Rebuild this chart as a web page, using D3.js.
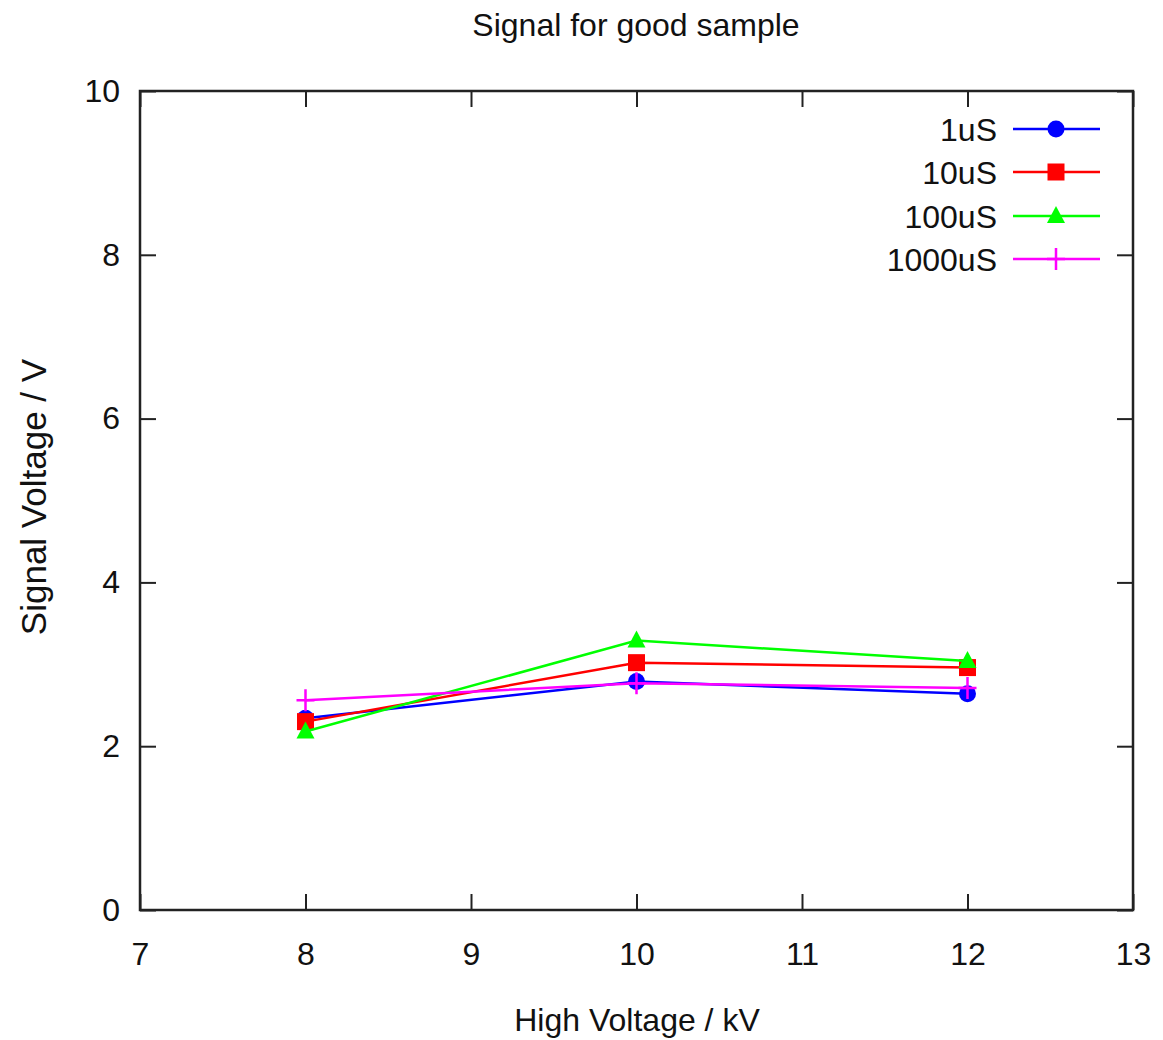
<!DOCTYPE html>
<html>
<head>
<meta charset="utf-8">
<script src="https://d3js.org/d3.v7.min.js"></script>
<style>
  html, body { margin: 0; padding: 0; background: #fff; }
  svg { display: block; font-family: "Liberation Sans", Arial, sans-serif; }
</style>
</head>
<body>
<svg id="chart" width="1163" height="1040"></svg>
<script>
// High voltage settings (kV) at which the signal was measured
const highVoltage = [8, 10, 12];

// Signal voltage (V) for each integration time
const series1uS    = [2.34, 2.79, 2.64];
const series10uS   = [2.30, 3.02, 2.96];
const series100uS  = [2.18, 3.29, 3.04];
const series1000uS = [2.56, 2.77, 2.71];

const seriesNames = ["1uS", "10uS", "100uS", "1000uS"];
const xTicks = [7, 8, 9, 10, 11, 12, 13];
const yTicks = [0, 2, 4, 6, 8, 10];

const styles = [
  { color: "#0000ff", symbol: "circle" },
  { color: "#ff0000", symbol: "square" },
  { color: "#00ff00", symbol: "triangle" },
  { color: "#ff00ff", symbol: "plus" }
];

const seriesValues = [series1uS, series10uS, series100uS, series1000uS];
const seriesData = seriesNames.map((name, i) => ({
  name,
  style: styles[i],
  points: highVoltage.map((xv, j) => ({ x: xv, y: seriesValues[i][j] }))
}));

(function draw() {
  const svg = d3.select("#chart");
  const plotLeft = 140, plotRight = 1133, plotTop = 91, plotBottom = 910;

  const x = d3.scaleLinear().domain([7, 13]).range([plotLeft, plotRight]);
  const y = d3.scaleLinear().domain([0, 10]).range([plotBottom, plotTop]);

  const axisColor = "#222";
  const fontSize = 32;
  const tickLen = 16;
  const fmt = d3.format("d");

  // Ticks drawn inward on all four sides
  const axes = svg.append("g");
  axes.append("g")
    .attr("transform", `translate(0,${plotBottom})`)
    .call(d3.axisBottom(x).tickValues(xTicks).tickFormat(fmt).tickSizeInner(-tickLen).tickSizeOuter(0).tickPadding(32));
  axes.append("g")
    .attr("transform", `translate(0,${plotTop})`)
    .call(d3.axisTop(x).tickValues(xTicks).tickSizeInner(-tickLen).tickSizeOuter(0).tickFormat(""));
  axes.append("g")
    .attr("transform", `translate(${plotLeft},0)`)
    .call(d3.axisLeft(y).tickValues(yTicks).tickFormat(fmt).tickSizeInner(-tickLen).tickSizeOuter(0).tickPadding(20));
  axes.append("g")
    .attr("transform", `translate(${plotRight},0)`)
    .call(d3.axisRight(y).tickValues(yTicks).tickSizeInner(-tickLen).tickSizeOuter(0).tickFormat(""));

  axes.selectAll(".domain").remove();
  axes.selectAll(".tick line").attr("stroke", axisColor).attr("stroke-width", 2);
  axes.selectAll(".tick text")
    .attr("fill", "#111")
    .attr("font-size", fontSize)
    .attr("font-family", "'Liberation Sans', Arial, sans-serif");

  // Plot frame
  svg.append("rect")
    .attr("x", plotLeft).attr("y", plotTop)
    .attr("width", plotRight - plotLeft).attr("height", plotBottom - plotTop)
    .attr("fill", "none")
    .attr("stroke", axisColor)
    .attr("stroke-width", 2.5);

  // Titles
  svg.append("text")
    .attr("x", 636).attr("y", 36)
    .attr("text-anchor", "middle")
    .attr("font-size", 32)
    .attr("fill", "#111")
    .text("Signal for good sample");

  svg.append("text")
    .attr("x", 637).attr("y", 1031)
    .attr("text-anchor", "middle")
    .attr("font-size", 32)
    .attr("fill", "#111")
    .text("High Voltage / kV");

  svg.append("text")
    .attr("transform", "translate(46,497) rotate(-90)")
    .attr("text-anchor", "middle")
    .attr("font-size", 35)
    .attr("fill", "#111")
    .text("Signal Voltage / V");

  // Marker shapes
  function drawMarker(g, symbol, color, cx, cy) {
    if (symbol === "circle") {
      g.append("circle").attr("cx", cx).attr("cy", cy).attr("r", 8.5).attr("fill", color);
    } else if (symbol === "square") {
      g.append("rect").attr("x", cx - 8.5).attr("y", cy - 8.5).attr("width", 17).attr("height", 17).attr("fill", color);
    } else if (symbol === "triangle") {
      g.append("path")
        .attr("d", `M${cx},${cy - 10} L${cx + 9},${cy + 7} L${cx - 9},${cy + 7} Z`)
        .attr("fill", color);
    } else if (symbol === "plus") {
      g.append("path")
        .attr("d", `M${cx - 9},${cy} H${cx + 9} M${cx},${cy - 11} V${cy + 11}`)
        .attr("stroke", color).attr("stroke-width", 2.5).attr("fill", "none");
    }
  }

  const line = d3.line().x(d => x(d.x)).y(d => y(d.y));

  const plot = svg.append("g");
  seriesData.forEach(s => {
    const g = plot.append("g");
    g.append("path")
      .datum(s.points)
      .attr("d", line)
      .attr("fill", "none")
      .attr("stroke", s.style.color)
      .attr("stroke-width", 2.5);
    s.points.forEach(p => drawMarker(g, s.style.symbol, s.style.color, x(p.x), y(p.y)));
  });

  // Legend
  const legendRowY = [129, 172, 216, 259];
  const legend = svg.append("g");
  seriesData.forEach((s, i) => {
    const ly = legendRowY[i];
    legend.append("text")
      .attr("x", 997).attr("y", ly)
      .attr("dy", "0.36em")
      .attr("text-anchor", "end")
      .attr("font-size", 32)
      .attr("fill", "#111")
      .text(s.name);
    legend.append("line")
      .attr("x1", 1013).attr("x2", 1100)
      .attr("y1", ly).attr("y2", ly)
      .attr("stroke", s.style.color)
      .attr("stroke-width", 2.5);
    drawMarker(legend, s.style.symbol, s.style.color, 1056, ly);
  });
})();
</script>
</body>
</html>
